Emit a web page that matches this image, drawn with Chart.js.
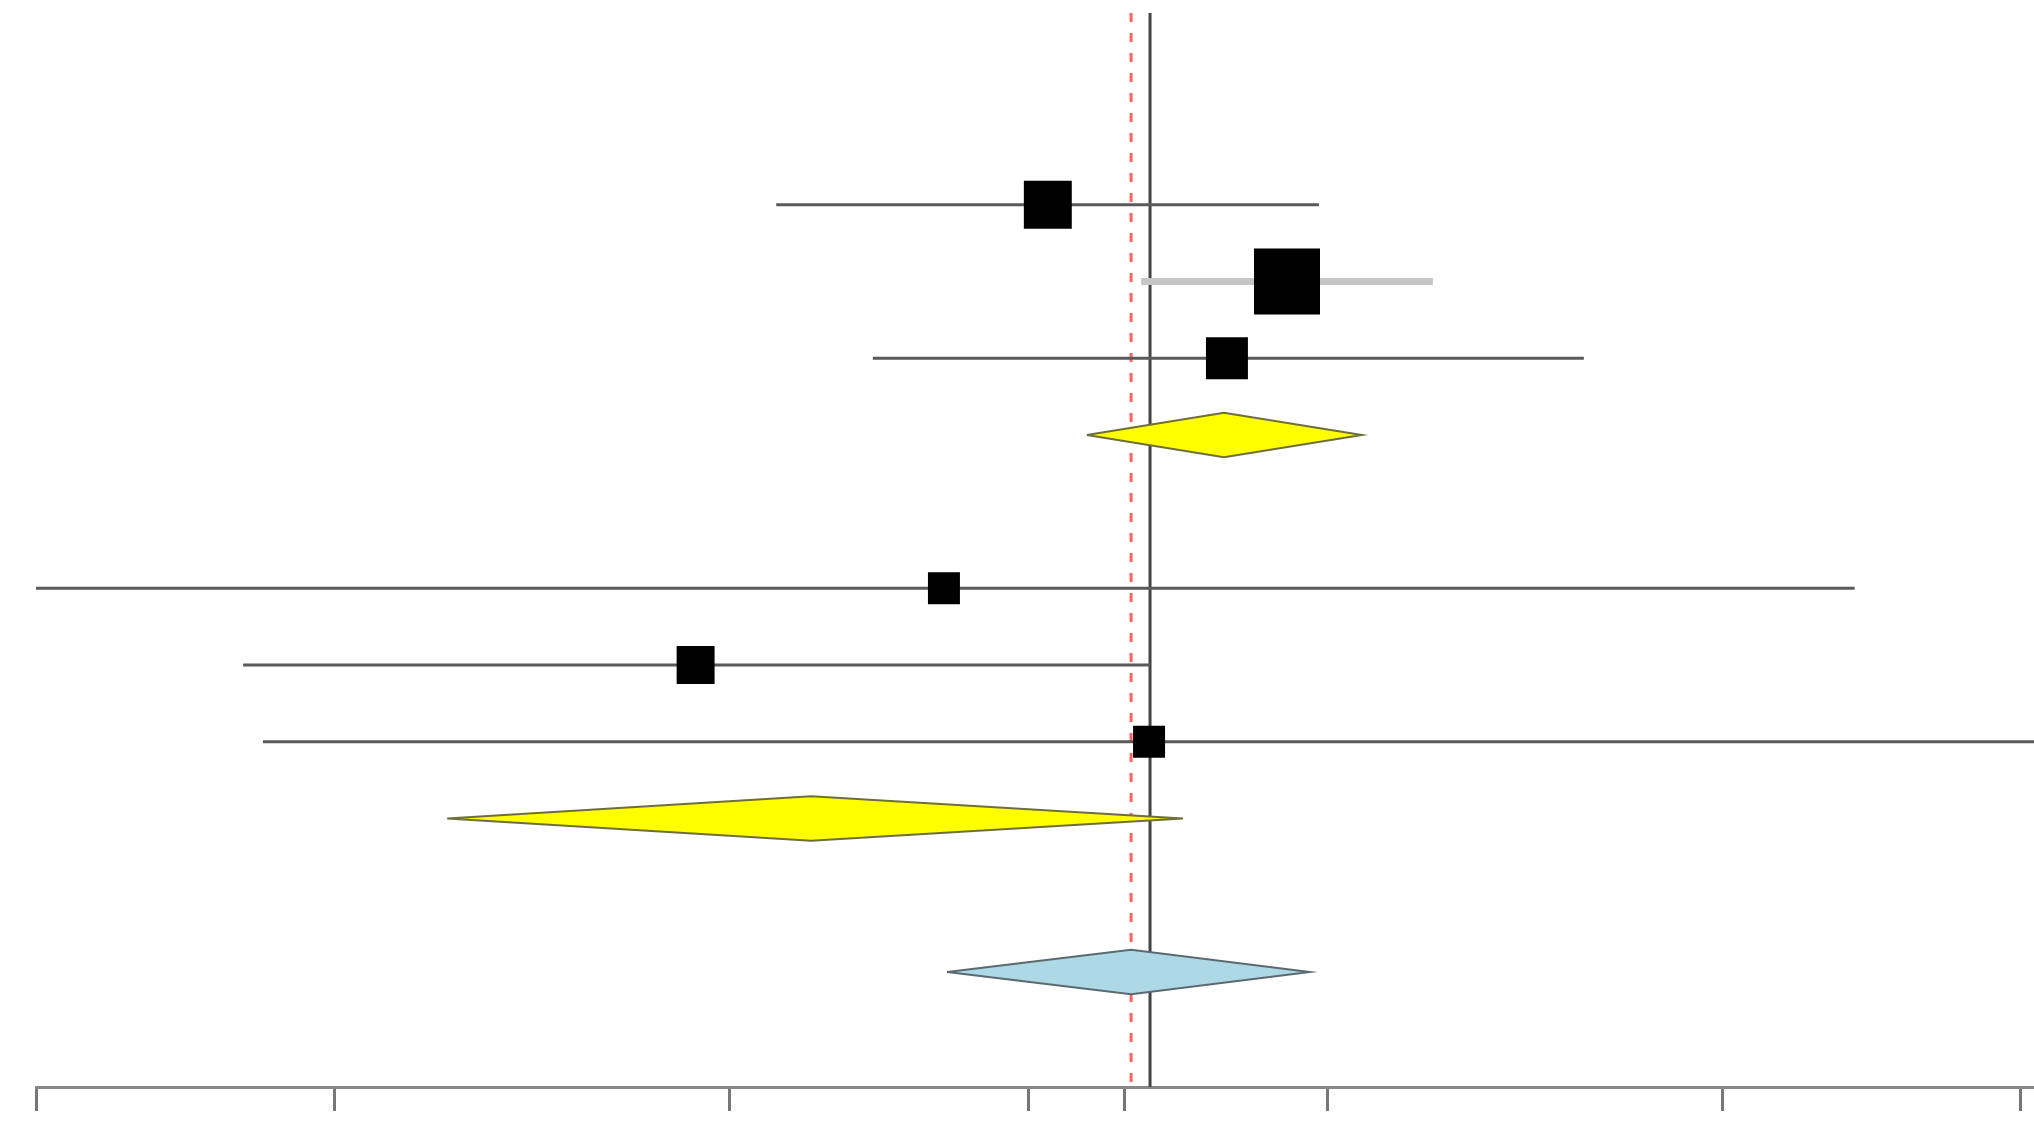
<!DOCTYPE html>
<html>
<head>
<meta charset="utf-8">
<script src="https://cdn.jsdelivr.net/npm/chart.js@4/dist/chart.umd.min.js"></script>
<style>
  html, body { margin: 0; padding: 0; background: #fff; }
  #wrap { width: 2034px; height: 1132px; position: relative; }
</style>
</head>
<body>
<div id="wrap"><canvas id="forest"></canvas></div>
<script>
// Forest plot values (ratio scale, log axis)
const tickValues = [0.1, 0.2, 0.5, 1, 1.25, 2, 5, 10];

// individual studies: row index (top = 0), point estimate, CI bounds, relative weight
const studyRow    = [0, 1, 2, 5, 6, 7];
const studyEst    = [1.046, 1.822, 1.585, 0.822, 0.462, 1.323];
const studyLow    = [0.557, 1.299, 0.697, 0.0998, 0.1617, 0.1693];
const studyHigh   = [1.962, 2.556, 3.628, 6.80, 1.326, 12];
const studyWeight = [19.3, 36.6, 14.8, 8.6, 12.1, 8.6];

// subgroup summaries (yellow diamonds)
const subgroupRow  = [3, 8];
const subgroupEst  = [1.574, 0.604];
const subgroupLow  = [1.145, 0.2596];
const subgroupHigh = [2.168, 1.431];

// overall summary (blue diamond)
const overallRow  = 10;
const overallEst  = 1.269;
const overallLow  = 0.828;
const overallHigh = 1.921;

// solid vertical reference line
const refLine = 1.326;

// --- styling helpers ---
const ROW_MIN = -2.5, ROW_MAX = 11.5;
const DIAMOND_HALF = 0.29;   // half-height of diamonds in row units
const MAX_SIDE = 66;         // side of the heaviest square, px
const maxW = Math.max(...studyWeight);

function squareRadius(w) {
  const side = MAX_SIDE * Math.sqrt(w / maxW);
  return side / Math.SQRT2;  // Chart.js 'rect' side = sqrt(2) * radius
}

function diamond(row, est, lo, hi) {
  return [
    { x: lo, y: row },
    { x: est, y: row - DIAMOND_HALF },
    { x: hi, y: row },
    { x: est, y: row + DIAMOND_HALF },
    { x: lo, y: row }
  ];
}

function vline(x) {
  return [{ x, y: ROW_MIN }, { x, y: ROW_MAX }];
}

const datasets = [];

// squares (drawn on top)
datasets.push({
  type: 'scatter',
  order: 0,
  data: studyRow.map((r, i) => ({ x: studyEst[i], y: r })),
  pointStyle: 'rect',
  pointRadius: studyWeight.map(squareRadius),
  pointBackgroundColor: '#000',
  pointBorderColor: '#000',
  pointBorderWidth: 0
});

// confidence interval lines
studyRow.forEach((r, i) => {
  const heavy = i === 1;
  datasets.push({
    type: 'line',
    order: 1,
    data: [{ x: studyLow[i], y: r }, { x: studyHigh[i], y: r }],
    borderColor: heavy ? '#c6c6c6' : '#5a5a5a',
    borderWidth: heavy ? 7 : 3,
    pointRadius: 0,
    fill: false
  });
});

// subgroup diamonds
subgroupRow.forEach((r, i) => {
  datasets.push({
    type: 'line',
    order: 2,
    data: diamond(r, subgroupEst[i], subgroupLow[i], subgroupHigh[i]),
    borderColor: '#6e6e3a',
    borderWidth: 2,
    backgroundColor: '#ffff00',
    fill: 'shape',
    tension: 0,
    pointRadius: 0
  });
});

// overall diamond
datasets.push({
  type: 'line',
  order: 2,
  data: diamond(overallRow, overallEst, overallLow, overallHigh),
  borderColor: '#5b6a70',
  borderWidth: 2,
  backgroundColor: '#add8e6',
  fill: 'shape',
  tension: 0,
  pointRadius: 0
});

// reference lines (drawn first)
datasets.push({
  type: 'line',
  order: 3,
  data: vline(refLine),
  borderColor: '#444',
  borderWidth: 3,
  pointRadius: 0,
  fill: false
});
datasets.push({
  type: 'line',
  order: 4,
  data: vline(overallEst),
  borderColor: 'rgba(255,70,70,0.85)',
  borderWidth: 3,
  borderDash: [9, 11],
  pointRadius: 0,
  fill: false
});

new Chart(document.getElementById('forest'), {
  type: 'scatter',
  data: { datasets },
  options: {
    responsive: true,
    maintainAspectRatio: false,
    animation: false,
    devicePixelRatio: 1,
    layout: { autoPadding: false, padding: { left: 36, right: 0, top: 13, bottom: 19 } },
    plugins: {
      legend: { display: false },
      tooltip: { enabled: false }
    },
    scales: {
      x: {
        type: 'logarithmic',
        min: 0.1,
        max: 10.31,
        afterBuildTicks: (axis) => { axis.ticks = tickValues.map(v => ({ value: v })); },
        afterFit: (axis) => { axis.height = 26; },
        ticks: { display: false },
        grid: {
          display: true,
          drawOnChartArea: false,
          drawTicks: true,
          tickLength: 24,
          tickWidth: 3,
          tickColor: '#777',
          color: '#777'
        },
        border: { display: true, color: '#888', width: 3 }
      },
      y: {
        type: 'linear',
        min: ROW_MIN,
        max: ROW_MAX,
        reverse: true,
        display: false
      }
    }
  }
});
</script>
</body>
</html>
